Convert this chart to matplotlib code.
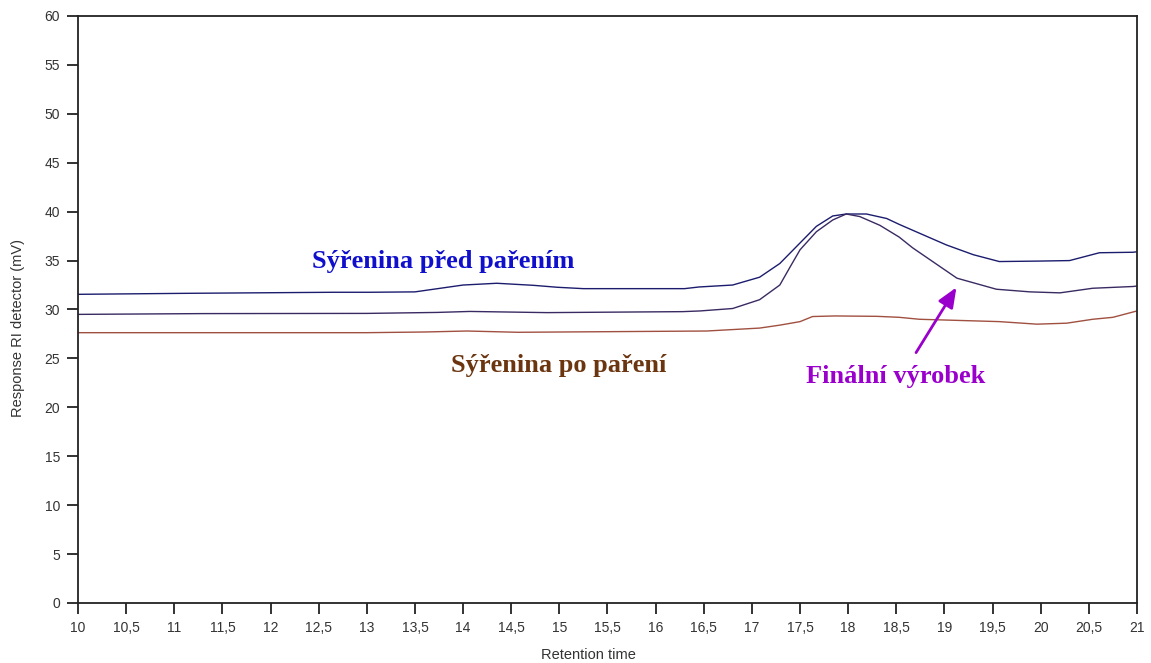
import matplotlib
matplotlib.use("Agg")
import matplotlib.pyplot as plt

# Data
t_pred = [10, 11.1, 12.65, 13.03, 13.5, 14.0, 14.35, 14.73, 14.98, 15.25, 16.3, 16.45, 16.8,
          17.08, 17.29, 17.5, 17.67, 17.84, 17.98, 18.19, 18.4, 18.53, 18.67, 19.02, 19.3,
          19.57, 20.0, 20.3, 20.61, 20.96, 21]
v_pred = [31.55, 31.65, 31.76, 31.76, 31.8, 32.5, 32.68, 32.47, 32.27, 32.13, 32.13, 32.3, 32.5,
          33.3, 34.7, 36.8, 38.5, 39.56, 39.76, 39.76, 39.3, 38.7, 38.1, 36.6, 35.6,
          34.9, 34.95, 35.0, 35.8, 35.85, 35.9]

t_final = [10, 11.3, 13.0, 13.73, 14.07, 14.87, 16.28, 16.46, 16.8, 17.08, 17.29, 17.4, 17.5,
           17.67, 17.84, 17.98, 18.12, 18.33, 18.53, 18.67, 19.13, 19.54, 19.89, 20.2, 20.54,
           20.96, 21]
v_final = [29.5, 29.58, 29.6, 29.7, 29.8, 29.68, 29.78, 29.85, 30.1, 31.0, 32.5, 34.4, 36.1,
           37.95, 39.15, 39.76, 39.5, 38.6, 37.4, 36.3, 33.2, 32.07, 31.8, 31.7, 32.17,
           32.35, 32.4]

t_po = [10, 13.0, 13.6, 14.04, 14.57, 16.53, 17.08, 17.29, 17.5, 17.63, 17.86, 18.3, 18.53,
        18.74, 19.57, 19.96, 20.27, 20.54, 20.75, 21]
v_po = [27.63, 27.63, 27.7, 27.8, 27.67, 27.8, 28.1, 28.4, 28.76, 29.28, 29.34, 29.3, 29.2,
        29.0, 28.76, 28.5, 28.6, 29.0, 29.2, 29.85]

x_ticks = [10 + 0.5 * i for i in range(23)]
x_labels = [("%g" % v).replace(".", ",") for v in x_ticks]
y_ticks = list(range(0, 61, 5))

label_pred = "Sýřenina před pařením"
label_po = "Sýřenina po paření"
label_final = "Finální výrobek"

fig = plt.figure(figsize=(11.51, 6.63), dpi=100)
ax = fig.add_axes([0.0678, 0.0905, 0.920, 0.8854])

ax.plot(t_pred, v_pred, color="#1c1c6e", lw=1.0)
ax.plot(t_final, v_final, color="#3a2a62", lw=1.0)
ax.plot(t_po, v_po, color="#a05040", lw=1.0)

ax.set_xlim(10, 21)
ax.set_ylim(0, 60)
ax.set_xticks(x_ticks)
ax.set_xticklabels(x_labels)
ax.set_yticks(y_ticks)
for s in ax.spines.values():
    s.set_linewidth(1.3)
    s.set_color("#222222")
ax.tick_params(direction="out", length=8, width=1.3, color="#222222",
               labelsize=10, labelcolor="#333333", pad=5)
for lab in ax.get_xticklabels() + ax.get_yticklabels():
    lab.set_family("Liberation Sans")

ax.set_xlabel("Retention time", family="Liberation Sans", fontsize=10.5,
              color="#333333", va="center", ha="center")
ax.xaxis.set_label_coords(0.4816, -0.0886)
ax.set_ylabel("Response RI detector (mV)", family="Liberation Sans", fontsize=10.5,
              color="#333333", va="center", ha="center")
ax.yaxis.set_label_coords(-0.0567, 0.468)

ax.text(13.79, 34.86, label_pred, color="#1010cc", family="Liberation Serif",
        fontweight="bold", fontsize=19, ha="center", va="center")
ax.text(14.99, 24.3, label_po, color="#6b3510", family="Liberation Serif",
        fontweight="bold", fontsize=19, ha="center", va="center")
ax.text(18.49, 23.1, label_final, color="#9a00cc", family="Liberation Serif",
        fontweight="bold", fontsize=19, ha="center", va="center")
ax.annotate("", xy=(19.14, 32.5), xytext=(18.69, 25.35),
            arrowprops=dict(arrowstyle="-|>,head_length=1.2,head_width=0.5",
                            color="#9a00cc", lw=2))

fig.savefig("out.png", dpi=100)
